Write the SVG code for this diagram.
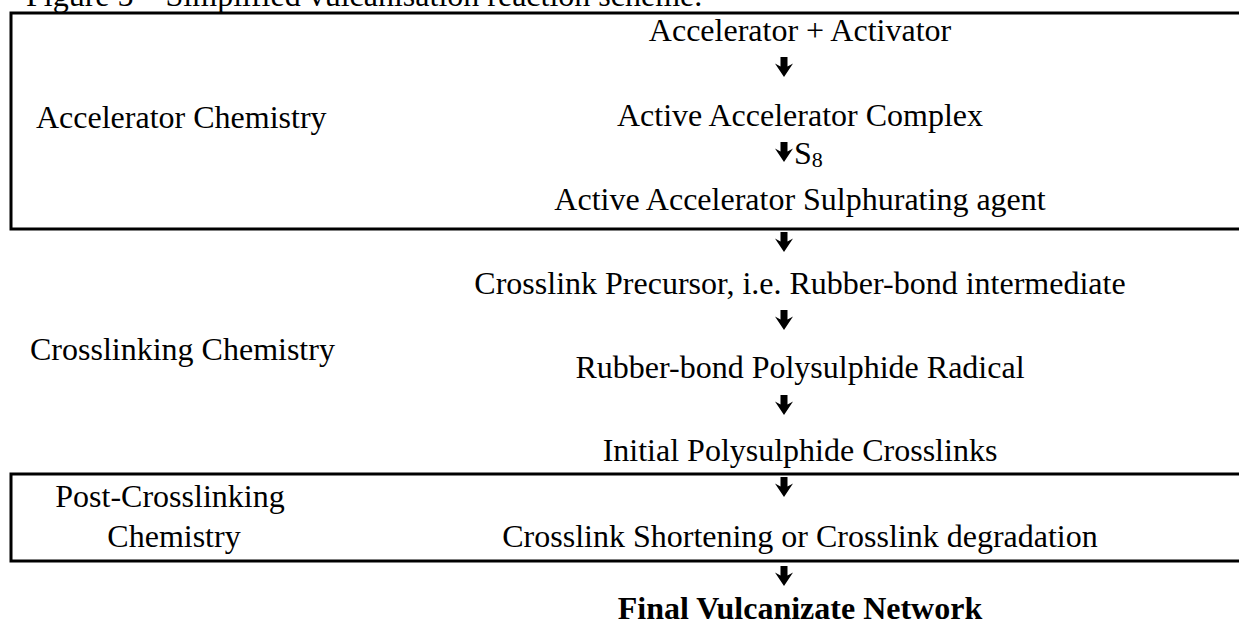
<svg xmlns="http://www.w3.org/2000/svg" width="1239" height="635" viewBox="0 0 1239 635">
<defs>
<style>
text{font-family:"Liberation Serif","Times New Roman",serif;font-size:32px;fill:#000}
.c{text-anchor:middle}
.b{font-weight:bold}
.box{fill:none;stroke:#000;stroke-width:3}
</style>
<path id="arr" d="M-3.5,0 H3.5 V9.5 L9,6.5 L0,20 L-9,6.5 L-3.5,9.5 Z" fill="#000"/>
</defs>
<text id="title" x="26" y="6">Figure 5 – Simplified vulcanisation reaction scheme.</text>
<g id="box-accelerator">
<path class="box" d="M1239,13 H11 V229 H1239"/>
<text x="36" y="128">Accelerator Chemistry</text>
</g>
<g id="box-crosslinking">
<text x="30" y="360">Crosslinking Chemistry</text>
</g>
<g id="box-post">
<path class="box" d="M1239,474 H11 V561 H1239"/>
<text class="c" x="170" y="507">Post-Crosslinking</text>
<text class="c" x="174" y="547">Chemistry</text>
</g>
<g id="n1"><text class="c" x="800" y="41">Accelerator + Activator</text></g>
<g id="n2"><text class="c" x="800" y="126">Active Accelerator Complex</text></g>
<g id="n3"><text class="c" x="800" y="210">Active Accelerator Sulphurating agent</text></g>
<g id="n4"><text class="c" x="800" y="294">Crosslink Precursor, i.e. Rubber-bond intermediate</text></g>
<g id="n5"><text class="c" x="800" y="378">Rubber-bond Polysulphide Radical</text></g>
<g id="n6"><text class="c" x="800" y="461">Initial Polysulphide Crosslinks</text></g>
<g id="n7"><text class="c" x="800" y="547">Crosslink Shortening or Crosslink degradation</text></g>
<g id="n8"><text class="c b" x="800" y="619">Final Vulcanizate Network</text></g>
<g id="connectors">
<use href="#arr" x="784" y="57"/>
<use href="#arr" x="784" y="142"/>
<text x="794" y="164">S<tspan font-size="22" dy="3">8</tspan></text>
<use href="#arr" x="784" y="232"/>
<use href="#arr" x="784" y="310"/>
<use href="#arr" x="784" y="395"/>
<use href="#arr" x="784" y="477"/>
<use href="#arr" x="784" y="566"/>
</g>
</svg>
